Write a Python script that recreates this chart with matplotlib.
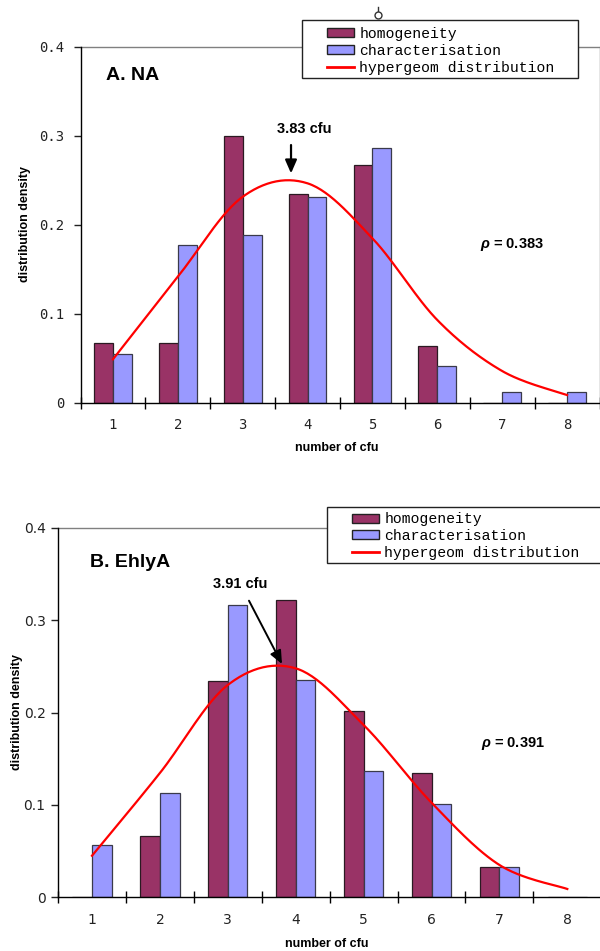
import numpy as np
import matplotlib
matplotlib.use("Agg")
import matplotlib.pyplot as plt
from matplotlib.patches import Rectangle, Patch
from matplotlib.lines import Line2D

# ---------------- data ----------------
cfu = [1, 2, 3, 4, 5, 6, 7, 8]
tick_labels = ["1", "2", "3", "4", "5", "6", "7", "8"]
y_ticks = [0, 0.1, 0.2, 0.3, 0.4]
y_tick_labels = ["0", "0.1", "0.2", "0.3", "0.4"]

na_homogeneity = [0.0667, 0.0666, 0.300, 0.235, 0.267, 0.0639, 0.0, 0.0]
na_characterisation = [0.0543, 0.177, 0.189, 0.231, 0.286, 0.0414, 0.012, 0.012]
na_hypergeom = [0.0486, 0.1415, 0.2315, 0.2466, 0.1847, 0.0928, 0.0354, 0.0084]

eh_homogeneity = [0.0, 0.0663, 0.234, 0.322, 0.2016, 0.134, 0.0325, 0.0]
eh_characterisation = [0.0563, 0.1125, 0.316, 0.235, 0.1367, 0.101, 0.0325, 0.0]
eh_hypergeom = [0.045, 0.1345, 0.2298, 0.2478, 0.1865, 0.1024, 0.035, 0.009]

legend_labels = ["homogeneity", "characterisation", "hypergeom distribution"]
HOM = "#993366"
CHA = "#9999FF"
RED = "#FF0000"

plt.rcParams["mathtext.fontset"] = "custom"
plt.rcParams["mathtext.it"] = "Liberation Sans:italic:bold"
plt.rcParams["mathtext.rm"] = "Liberation Sans:bold"

W, H = 600, 951
fig = plt.figure(figsize=(W / 100, H / 100), dpi=100)


def fx(px):
    return px / W


def fy(py):
    return 1 - py / H


def smooth(xs, ys, n=30):
    xs = np.asarray(xs, float)
    ys = np.asarray(ys, float)
    P = np.vstack([xs, ys]).T
    P = np.vstack([P[0], P, P[-1]])
    out = []
    for i in range(1, len(P) - 2):
        p0, p1, p2, p3 = P[i - 1], P[i], P[i + 1], P[i + 2]
        t = np.linspace(0, 1, n)[:, None]
        seg = 0.5 * ((2 * p1) + (-p0 + p2) * t + (2 * p0 - 5 * p1 + 4 * p2 - p3) * t ** 2
                     + (-p0 + 3 * p1 - 3 * p2 + p3) * t ** 3)
        out.append(seg if i == 1 else seg[1:])
    out = np.vstack(out)
    return out[:, 0], out[:, 1]


def panel(rect, hom, cha, hyp, tick_font, tick_size, ylab_pad, xlab_pad):
    ax = fig.add_axes(rect)
    x = np.array(cfu, float)
    bw = 0.29
    ax.bar(x - bw / 2, hom, width=bw, color=HOM, edgecolor="#2a1a22", linewidth=0.9, zorder=2)
    ax.bar(x + bw / 2, cha, width=bw, color=CHA, edgecolor="#3a3a4a", linewidth=0.9, zorder=2)
    sx, sy = smooth(x, hyp)
    ax.plot(sx, sy, color=RED, lw=1.6, zorder=3)
    ax.set_xlim(0.5, 8.5)
    ax.set_ylim(0, 0.4)
    ax.set_yticks(y_ticks)
    ax.set_yticklabels(y_tick_labels, family=tick_font, fontsize=tick_size)
    ax.set_xticks(cfu)
    ax.set_xticklabels(tick_labels, family=tick_font, fontsize=tick_size)
    ax.set_xticks(np.arange(0.5, 9.0, 1.0), minor=True)
    ax.tick_params(axis="x", which="major", length=0, pad=xlab_pad, colors="#222222")
    ax.tick_params(axis="x", which="minor", direction="inout", length=8, width=1, color="black")
    ax.tick_params(axis="y", which="major", direction="out", length=5, width=1, pad=ylab_pad,
                   colors="#222222")
    ax.tick_params(axis="y", which="minor", length=0)
    for s in ["left", "bottom"]:
        ax.spines[s].set_color("black")
        ax.spines[s].set_linewidth(1.0)
    for s in ["top", "right"]:
        ax.spines[s].set_color("#808080")
        ax.spines[s].set_linewidth(1.0)
    ax.spines["left"].set_zorder(4)
    ax.spines["bottom"].set_zorder(4)
    return ax


def legend_box(x0, y0, x1, y1, hx, hy, spacing):
    fig.add_artist(Rectangle((fx(x0), fy(y1)), fx(x1) - fx(x0), fy(y0) - fy(y1),
                             transform=fig.transFigure, facecolor="white",
                             edgecolor="#222222", linewidth=1.0, zorder=10))
    handles = [Patch(facecolor=HOM, edgecolor="#222222", linewidth=1.0),
               Patch(facecolor=CHA, edgecolor="#222222", linewidth=1.0),
               Line2D([0], [0], color=RED, lw=2)]
    leg = fig.legend(handles, legend_labels, loc="upper left",
                     bbox_to_anchor=(fx(hx), fy(hy)), bbox_transform=fig.transFigure,
                     frameon=False, borderpad=0, borderaxespad=0,
                     prop={"family": "Liberation Mono", "size": 10.6},
                     handlelength=1.8, handleheight=0.55, handletextpad=0.4,
                     labelspacing=spacing)
    leg.set_zorder(11)


# ---------------- panel A ----------------
axA = panel([fx(80.5), fy(402.5), fx(599.5) - fx(80.5), fy(47) - fy(402.5)],
            na_homogeneity, na_characterisation, na_hypergeom,
            "DejaVu Sans Mono", 10, 6.5, 11)
axA.text(0.886, 0.3684, "A. NA", family="Liberation Sans", weight="bold", fontsize=14,
         ha="left", va="center")
axA.annotate("", xy=(3.745, 0.2578), xytext=(3.745, 0.2897),
             arrowprops=dict(arrowstyle="-|>,head_length=0.8,head_width=0.35", color="black",
                             lw=1.6, shrinkA=0, shrinkB=0))
axA.text(3.953, 0.3073, "3.83 cfu", family="Liberation Sans", weight="bold", fontsize=10.5,
         ha="center", va="center")
axA.text(7.15, 0.1775, r"$\rho$ = 0.383", family="Liberation Sans", weight="bold",
         fontsize=10.5, ha="center", va="center")
fig.text(fx(337), fy(448), "number of cfu", family="Liberation Sans", weight="bold",
         fontsize=9, ha="center", va="center")
fig.text(fx(25), fy(224), "distribution density", family="Liberation Sans", weight="bold",
         fontsize=9, ha="center", va="center", rotation=90)
legend_box(302, 20, 578, 78, 327, 27, 0.2)

# small selection-handle artifact above the legend
fig.add_artist(Line2D([fx(378), fx(378)], [fy(7), fy(12)], transform=fig.transFigure,
                      color="#333333", lw=1, zorder=12))
fig.add_artist(Line2D([fx(378)], [fy(15)], transform=fig.transFigure, marker="o",
                      markersize=5, markerfacecolor="white", markeredgecolor="#333333",
                      markeredgewidth=1, zorder=12))

# ---------------- panel B ----------------
axB = panel([fx(58.05), fy(897.3), fx(601.25) - fx(58.05), fy(527.7) - fy(897.3)],
            eh_homogeneity, eh_characterisation, eh_hypergeom,
            ["Liberation Sans Narrow", "DejaVu Sans"], 10, 4, 11)
axB.text(0.97, 0.3621, "B. EhlyA", family="Liberation Sans", weight="bold", fontsize=14,
         ha="left", va="center")
axB.annotate("", xy=(3.798, 0.2525), xytext=(3.312, 0.321),
             arrowprops=dict(arrowstyle="-|>,head_length=0.8,head_width=0.35", color="black",
                             lw=1.4, shrinkA=0, shrinkB=0))
axB.text(3.187, 0.339, "3.91 cfu", family="Liberation Sans", weight="bold", fontsize=10.5,
         ha="center", va="center")
axB.text(7.2, 0.1667, r"$\rho$ = 0.391", family="Liberation Sans", weight="bold",
         fontsize=10.5, ha="center", va="center")
fig.text(fx(327), fy(944), "number of cfu", family="Liberation Sans", weight="bold",
         fontsize=9, ha="center", va="center")
fig.text(fx(17), fy(712), "distribution density", family="Liberation Sans", weight="bold",
         fontsize=9, ha="center", va="center", rotation=90)
legend_box(327, 507, 603, 563, 352, 512.5, 0.17)

fig.savefig("out.png", dpi=100)
